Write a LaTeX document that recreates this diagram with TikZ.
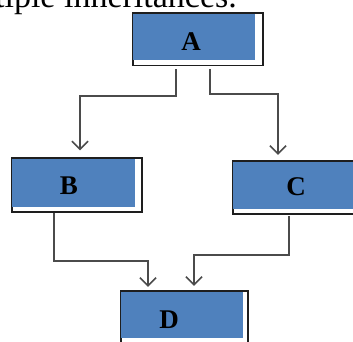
\documentclass[tikz,border=0pt]{standalone}
\usepackage{fontspec}
\setmainfont{Liberation Serif}
\usetikzlibrary{arrows.meta}
\definecolor{boxblue}{RGB}{79,129,189}
\definecolor{linegray}{RGB}{75,75,75}
\definecolor{outlinecol}{RGB}{30,30,30}
\tikzset{
  blk/.style={fill=boxblue, draw=none, inner sep=0pt, rectangle},
  outl/.style={draw=outlinecol, line width=1.4pt},
  conn/.style={draw=linegray, line width=1.5pt, -{Straight Barb[length=8pt,width=16pt,line width=1.5pt]}},
  lbl/.style={font=\fontsize{27}{27}\selectfont\bfseries, inner sep=0pt}
}
\begin{document}
\begin{tikzpicture}[x=1pt,y=-1pt]
\useasboundingbox (0,0) rectangle (353,342);
\node[anchor=base east, inner sep=0pt, font=\fontsize{34}{34}\selectfont] (title) at (237,8) {multiple inheritances.};
% outlines first
\draw[outl] (133,65.5) -- (263,65.5) -- (263,13) -- (133,13) -- cycle;
\draw[outl] (12,212) -- (142,212) -- (142,158) -- (12,158) -- cycle;
\draw[outl] (233,214) -- (360,214) -- (360,161) -- (233,161) -- cycle;
\draw[outl] (121,350) -- (121,291) -- (248,291) -- (248,350);
% blue boxes
\node[blk, minimum width=122pt, minimum height=46pt] (A) at (194,37) {};
\node[blk, minimum width=123pt, minimum height=48pt] (B) at (73.5,183) {};
\node[blk, minimum width=132pt, minimum height=47pt] (C) at (299,185.5) {};
\node[blk, minimum width=122pt, minimum height=46pt] (D) at (182,315) {};
% labels
\node[lbl] (tA) at ([shift={(-3,5)}]A.center) {A};
\node[lbl] (tB) at ([shift={(-4.5,3)}]B.center) {B};
\node[lbl] (tC) at ([shift={(-3,1.5)}]C.center) {C};
\node[lbl] (tD) at ([shift={(-13,5)}]D.center) {D};
% connectors
\draw[conn] ([shift={(-18,9)}]A.south) -- ++(0,27) -| ([shift={(6.5,-8.5)}]B.north);
\draw[conn] ([shift={(16,9)}]A.south) -- ++(0,25) -| ([shift={(-21,-7)}]C.north);
\draw[conn] ([shift={(-19.5,6)}]B.south) -- ++(0,48) -| ([shift={(-34,-5)}]D.north);
\draw[conn] ([shift={(-10,7)}]C.south) -- ++(0,39) -| ([shift={(12,-6)}]D.north);
\end{tikzpicture}
\end{document}
